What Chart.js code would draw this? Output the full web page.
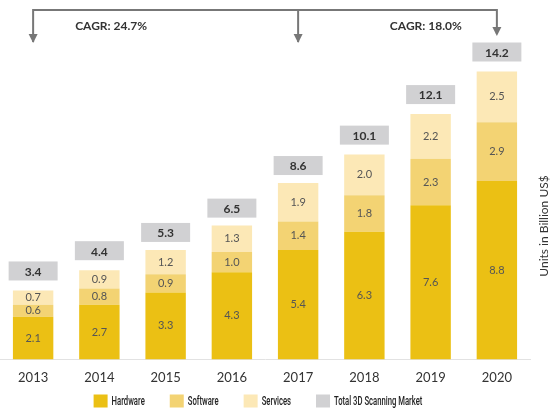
<!DOCTYPE html>
<html>
<head>
<meta charset="utf-8">
<script src="https://cdn.jsdelivr.net/npm/chart.js@4/dist/chart.umd.min.js"></script>
<style>
  html, body { margin: 0; padding: 0; background: #fff; }
  #wrap { width: 560px; height: 417px; }
</style>
</head>
<body>
<div id="wrap"><canvas id="myChart"></canvas></div>
<script>
const years = ["2013", "2014", "2015", "2016", "2017", "2018", "2019", "2020"];
const hardware = [2.1, 2.7, 3.3, 4.3, 5.4, 6.3, 7.6, 8.8];
const software = [0.6, 0.8, 0.9, 1.0, 1.4, 1.8, 2.3, 2.9];
const services = [0.7, 0.9, 1.2, 1.3, 1.9, 2.0, 2.2, 2.5];
const totals = [3.4, 4.4, 5.3, 6.5, 8.6, 10.1, 12.1, 14.2];
const cagrLeft = "CAGR: 24.7%";
const cagrRight = "CAGR: 18.0%";
const totalLabel = "Total 3D Scanning Market";
const axisTitle = "Units in Billion US$";

const GREY = "#d1d1d3";
const ARROW = "#777";

// segment values, total boxes, arrows, legend and the rotated axis title
const extras = {
  id: "extras",
  afterDatasetsDraw(chart) {
    const ctx = chart.ctx;
    const x = chart.scales.x;
    const y = chart.scales.y;
    ctx.save();

    // values inside the stacked segments
    ctx.font = "11px Lato";
    ctx.fillStyle = "#555";
    ctx.textAlign = "center";
    ctx.textBaseline = "middle";
    chart.data.datasets.forEach((ds, di) => {
      chart.getDatasetMeta(di).data.forEach((bar, i) => {
        ctx.fillText(ds.data[i].toFixed(1), bar.x, (bar.y + bar.base) / 2);
      });
    });

    // total boxes above the bars
    ctx.font = "bold 12px Lato";
    totals.forEach((t, i) => {
      const cx = x.getPixelForValue(i);
      const top = y.getPixelForValue(t);
      const w = 49, h = 19;
      ctx.fillStyle = GREY;
      ctx.fillRect(cx - w / 2, top - 10 - h, w, h);
      ctx.fillStyle = "#333";
      ctx.fillText(t.toFixed(1), cx, top - 10 - h / 2 + 1);
    });

    // CAGR bracket
    const lineY = 10;
    const a = x.getPixelForValue(0), b = x.getPixelForValue(4), c = x.getPixelForValue(7);
    ctx.strokeStyle = ARROW;
    ctx.fillStyle = ARROW;
    ctx.lineWidth = 2;
    ctx.beginPath();
    ctx.moveTo(a, lineY + 32);
    ctx.lineTo(a, lineY);
    ctx.lineTo(c, lineY);
    ctx.lineTo(c, lineY + 24);
    ctx.moveTo(b, lineY);
    ctx.lineTo(b, lineY + 32);
    ctx.stroke();
    [[a, 43], [b, 43], [c, 36]].forEach(([ax, tip]) => {
      ctx.beginPath();
      ctx.moveTo(ax - 4.5, tip - 9);
      ctx.lineTo(ax + 4.5, tip - 9);
      ctx.lineTo(ax, tip);
      ctx.closePath();
      ctx.fill();
    });

    ctx.font = "bold 12px Lato";
    ctx.fillStyle = "#333";
    ctx.textAlign = "left";
    ctx.fillText(cagrLeft, a + 42, 26);
    ctx.textAlign = "right";
    ctx.fillText(cagrRight, c - 35, 26);

    // legend, condensed text
    const items = chart.data.datasets.map((ds) => [ds.label, ds.backgroundColor]);
    items.push([totalLabel, GREY]);
    const sx = 0.64, box = 14, gap = 4, spacing = 25, ly = 401;
    ctx.font = "500 12px Roboto";
    const widths = items.map(([t]) => ctx.measureText(t).width * sx);
    const full = widths.reduce((s, w) => s + box + gap + w, 0) + spacing * (items.length - 1);
    let lx = (x.left + x.right) / 2 - 7 - full / 2;
    ctx.textAlign = "left";
    items.forEach(([t, col], i) => {
      ctx.fillStyle = col;
      ctx.fillRect(lx, ly - 6.5, box, 13);
      ctx.save();
      ctx.translate(lx + box + gap, ly + 1);
      ctx.scale(sx, 1);
      ctx.fillStyle = "#222";
      ctx.fillText(t, 0, 0);
      ctx.restore();
      lx += box + gap + widths[i] + spacing;
    });

    // axis title on the right, reading upwards
    ctx.translate(x.right + 14, 226);
    ctx.rotate(-Math.PI / 2);
    ctx.textAlign = "center";
    ctx.font = "12px Lato";
    ctx.fillStyle = "#333";
    ctx.fillText(axisTitle, 0, 0);
    ctx.restore();
  }
};

new Chart("myChart", {
  type: "bar",
  data: {
    labels: years,
    datasets: [
      { label: "Hardware", data: hardware, backgroundColor: "#ebc014" },
      { label: "Software", data: software, backgroundColor: "#f3d373" },
      { label: "Services", data: services, backgroundColor: "#fce8b6" },
    ],
  },
  options: {
    responsive: true,
    maintainAspectRatio: false,
    animation: false,
    layout: { padding: { top: 35, right: 30, left: 0, bottom: 28 } },
    datasets: {
      bar: { categoryPercentage: 1, barPercentage: 0.61 },
    },
    plugins: {
      tooltip: { enabled: false },
      legend: { display: false },
    },
    scales: {
      x: {
        stacked: true,
        grid: { display: false },
        border: { display: true, color: "#e2e2e2", width: 1 },
        ticks: { font: { family: "Lato", size: 13 }, color: "#333", padding: 3 },
      },
      y: {
        stacked: true,
        display: false,
        min: 0,
        max: 16,
      },
    },
  },
  plugins: [extras],
});
</script>
</body>
</html>
